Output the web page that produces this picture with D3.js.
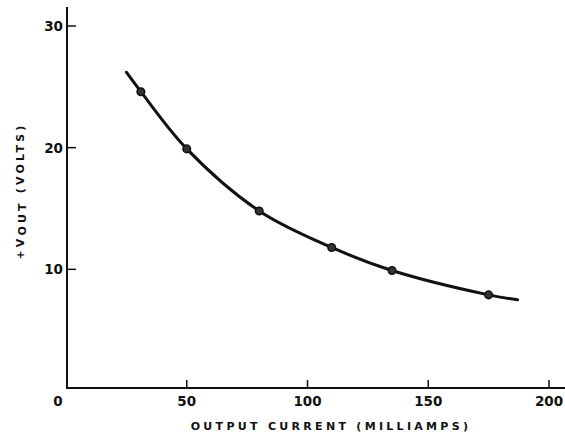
<!DOCTYPE html>
<html>
<head>
<meta charset="utf-8">
<script src="https://cdn.jsdelivr.net/npm/d3@7"></script>
<style>
  body { margin: 0; background: #fff; }
  text { font-family: "DejaVu Sans", sans-serif; font-weight: bold; fill: #111; }
</style>
</head>
<body>
<div id="chart"></div>
<script>
var svgWidth = 565;
var svgHeight = 438;

// values
var xTicks = [0, 50, 100, 150, 200];
var yTicks = [10, 20, 30];
var pointCurrent = [31, 50, 80, 110, 135, 175];
var pointVolts = [24.6, 19.9, 14.8, 11.8, 9.9, 7.9];
// the drawn curve runs a little past the first and last points
var curveCurrent = [25, 31, 50, 80, 110, 135, 175, 187];
var curveVolts = [26.2, 24.6, 19.9, 14.8, 11.8, 9.9, 7.9, 7.5];

var svg = d3.select("#chart")
  .append("svg")
    .attr("width", svgWidth)
    .attr("height", svgHeight);

var x = d3.scaleLinear().domain([0, 200]).range([66, 549]);
var y = d3.scaleLinear().domain([0, 30]).range([391, 26]);

var axisY0 = 388;
var axisX0 = 67;

// axes lines
svg.append("line")
  .attr("x1", axisX0).attr("x2", axisX0)
  .attr("y1", 7).attr("y2", axisY0 + 1)
  .attr("stroke", "#111").attr("stroke-width", 2);
svg.append("line")
  .attr("x1", axisX0 - 1).attr("x2", 565)
  .attr("y1", axisY0).attr("y2", axisY0)
  .attr("stroke", "#111").attr("stroke-width", 2);

// x ticks (pointing up) and labels
svg.selectAll(".xtick")
  .data(xTicks.filter(d => d > 0))
  .enter().append("line")
  .attr("class", "xtick")
  .attr("x1", d => x(d)).attr("x2", d => x(d))
  .attr("y1", axisY0).attr("y2", axisY0 - 8)
  .attr("stroke", "#111").attr("stroke-width", 1.5);

svg.selectAll(".xlab")
  .data(xTicks)
  .enter().append("text")
  .attr("class", "xlab")
  .attr("x", d => d === 0 ? 58 : x(d))
  .attr("y", 406)
  .attr("text-anchor", "middle")
  .style("font-size", "13.5px")
  .text(d => d);

// y ticks (pointing right) and labels
svg.selectAll(".ytick")
  .data(yTicks)
  .enter().append("line")
  .attr("class", "ytick")
  .attr("x1", axisX0).attr("x2", axisX0 + 9)
  .attr("y1", d => y(d)).attr("y2", d => y(d))
  .attr("stroke", "#111").attr("stroke-width", 1.5);

svg.selectAll(".ylab")
  .data(yTicks)
  .enter().append("text")
  .attr("class", "ylab")
  .attr("x", 63)
  .attr("y", d => y(d) + 5)
  .attr("text-anchor", "end")
  .style("font-size", "13.5px")
  .text(d => d);

// curve
var curveData = curveCurrent.map((c, i) => [c, curveVolts[i]]);
var line = d3.line()
  .x(d => x(d[0]))
  .y(d => y(d[1]))
  .curve(d3.curveCatmullRom.alpha(0.5));

svg.append("path")
  .datum(curveData)
  .attr("d", line)
  .attr("fill", "none")
  .attr("stroke", "#111")
  .attr("stroke-width", 3)
  .attr("stroke-linecap", "round");

// measured points
var pointData = pointCurrent.map((c, i) => [c, pointVolts[i]]);
svg.selectAll(".pt")
  .data(pointData)
  .enter().append("circle")
  .attr("class", "pt")
  .attr("cx", d => x(d[0]))
  .attr("cy", d => y(d[1]))
  .attr("r", 3.8)
  .attr("fill", "#333")
  .attr("stroke", "#111")
  .attr("stroke-width", 1.5);

// axis titles
svg.append("text")
  .attr("x", 331)
  .attr("y", 430)
  .attr("text-anchor", "middle")
  .style("font-size", "11px")
  .style("letter-spacing", "3.3px")
  .text("OUTPUT CURRENT (MILLIAMPS)");

var ytitle = svg.append("text")
  .attr("transform", "translate(24,191) rotate(-90)")
  .attr("text-anchor", "middle")
  .style("font-size", "11px")
  .style("letter-spacing", "3.2px");
ytitle.append("tspan").text("+V");
ytitle.append("tspan").attr("dy", 1.5).text("OUT");
ytitle.append("tspan").attr("dy", -1.5).text(" (VOLTS)");
</script>
</body>
</html>
